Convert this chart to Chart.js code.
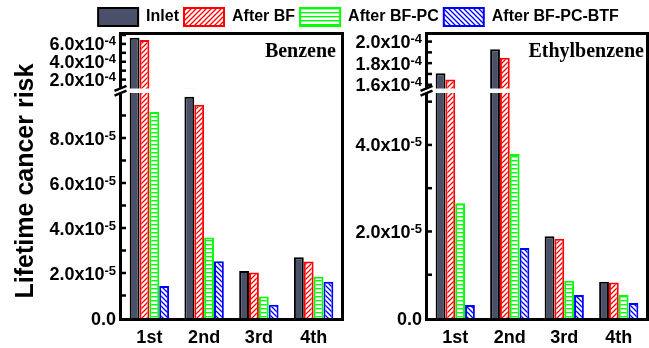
<!DOCTYPE html>
<html>
<head>
<meta charset="utf-8">
<script src="https://cdn.jsdelivr.net/npm/chart.js@4.4.1/dist/chart.umd.min.js"></script>
<style>
  html, body { margin: 0; padding: 0; background: #fff; }
  #wrap { position: relative; width: 649px; height: 348px; overflow: hidden; }
  #wrap canvas { position: absolute; left: 0; top: 0; }
</style>
</head>
<body>
<div id="wrap">
  <canvas id="legendChart" width="649" height="348"></canvas>
  <canvas id="bzUpper" width="649" height="348"></canvas>
  <canvas id="bzLower" width="649" height="348"></canvas>
  <canvas id="ebUpper" width="649" height="348"></canvas>
  <canvas id="ebLower" width="649" height="348"></canvas>
</div>
<script>
// ---- data ----
const categories = ["1st", "2nd", "3rd", "4th"]
const seriesNames = ["Inlet", "After BF", "After BF-PC", "After BF-PC-BTF"]

// Benzene
const benzeneInlet = [6.70e-4, 9.83e-5, 2.09e-5, 2.70e-5]
const benzeneBF = [6.44e-4, 9.48e-5, 2.02e-5, 2.51e-5]
const benzenePC = [9.16e-5, 3.58e-5, 0.96e-5, 1.83e-5]
const benzeneBTF = [1.42e-5, 2.52e-5, 0.59e-5, 1.61e-5]

// Ethylbenzene
const ethylInlet = [1.706e-4, 1.929e-4, 1.89e-5, 0.835e-5]
const ethylBF = [1.649e-4, 1.851e-4, 1.83e-5, 0.82e-5]
const ethylPC = [2.65e-5, 3.79e-5, 0.86e-5, 0.53e-5]
const ethylBTF = [0.30e-5, 1.62e-5, 0.53e-5, 0.345e-5]

// tick values (labelled and minor)
const benzeneUpperTicks = [2e-4, 4e-4, 6e-4]
const benzeneUpperMinor = [3e-4, 5e-4, 7e-4]
const benzeneLowerTicks = [0, 2e-5, 4e-5, 6e-5, 8e-5]
const benzeneLowerMinor = [1e-5, 3e-5, 5e-5, 7e-5, 9e-5]
const ethylUpperTicks = [1.6e-4, 1.8e-4, 2.0e-4]
const ethylUpperMinor = [1.7e-4, 1.9e-4]
const ethylLowerTicks = [0, 2e-5, 4e-5]
const ethylLowerMinor = [1e-5, 3e-5, 5e-5]

const W = 649, H = 348
const SANS = "Arial, 'Liberation Sans', sans-serif"
const SERIF = "'Times New Roman', 'Liberation Serif', serif"

// ---- hatch patterns ----
function hatch(kind, color, size) {
  const c = document.createElement("canvas")
  c.width = size
  c.height = size
  const g = c.getContext("2d")
  g.fillStyle = "#fff"
  g.fillRect(0, 0, size, size)
  g.strokeStyle = color
  g.fillStyle = color
  g.lineWidth = 1.3
  const s = size
  if (kind === "slash") {
    g.beginPath()
    g.moveTo(-1, 1); g.lineTo(1, -1)
    g.moveTo(0, s); g.lineTo(s, 0)
    g.moveTo(s - 1, s + 1); g.lineTo(s + 1, s - 1)
    g.stroke()
  } else if (kind === "back") {
    g.beginPath()
    g.moveTo(0, 0); g.lineTo(s, s)
    g.moveTo(-1, s - 1); g.lineTo(1, s + 1)
    g.moveTo(s - 1, -1); g.lineTo(s + 1, 1)
    g.stroke()
  } else {
    g.fillRect(0, 0, s, 1.4)
  }
  return g.createPattern(c, "repeat")
}

const tmpCtx = document.createElement("canvas").getContext("2d")
const fills = [
  "#4a5068",
  hatch("slash", "#ff0000", 5),
  hatch("horiz", "#00ff00", 4),
  hatch("back", "#0000ff", 5),
]
const borders = ["#000000", "#ff0000", "#00ff00", "#0000ff"]

function makeSets(vals) {
  return vals.map((v, i) => ({
    label: seriesNames[i],
    data: v,
    backgroundColor: fills[i],
    borderColor: borders[i],
    borderWidth: 2,
    categoryPercentage: 0.72,
    barPercentage: 1,
    clip: 0,
  }))
}

// "2.0x10" with a raised exponent
function drawSci(ctx, v, xr, py) {
  let main = "0.0", sup = ""
  if (v !== 0) {
    const e = Math.floor(Math.log10(v) + 1e-9)
    main = (v / Math.pow(10, e)).toFixed(1) + "x10"
    sup = String(e)
  }
  ctx.textAlign = "left"
  ctx.textBaseline = "alphabetic"
  ctx.font = "bold 13px " + SANS
  const ws = sup ? ctx.measureText(sup).width : 0
  ctx.font = "bold 18px " + SANS
  const wm = ctx.measureText(main).width
  ctx.fillText(main, xr - ws - wm, py + 6.5)
  if (sup) {
    ctx.font = "bold 13px " + SANS
    ctx.fillText(sup, xr - ws, py + 1.5)
  }
}

function framePlugin(o) {
  return {
    id: "frame",
    afterDraw(chart) {
      const { ctx, chartArea: a } = chart
      const y = chart.scales.y
      const x = chart.scales.x
      ctx.save()
      ctx.fillStyle = "#000"
      if (o.part === "upper") {
        ctx.fillRect(a.left - 3, a.top - 3, a.right - a.left + 6, 3)
        ctx.fillRect(a.left - 3, a.top - 3, 3, a.bottom - a.top + 3)
        ctx.fillRect(a.right, a.top - 3, 3, a.bottom - a.top + 3)
      } else {
        ctx.fillRect(a.left - 3, a.top, 3, a.bottom - a.top + 3)
        ctx.fillRect(a.left - 3, a.bottom, a.right - a.left + 6, 3)
        ctx.fillRect(a.right, a.top - 6, 3, a.bottom - a.top + 9)
      }
      // inward ticks
      o.ticks.concat(o.minor).forEach((v) => {
        if (v === 0) return
        const py = y.getPixelForValue(v)
        ctx.fillRect(a.left, py - 1.25, 4, 2.5)
      })
      // tick labels
      o.ticks.forEach((v) => drawSci(ctx, v, a.left - 6, y.getPixelForValue(v)))

      if (o.part === "upper") {
        ctx.font = "bold 20px " + SERIF
        ctx.textAlign = "right"
        ctx.textBaseline = "alphabetic"
        ctx.fillText(o.title, a.right - o.titleGap, 56.5)
      } else {
        // category labels
        ctx.font = "bold 18px " + SANS
        ctx.textAlign = "center"
        ctx.textBaseline = "alphabetic"
        categories.forEach((c, i) => ctx.fillText(c, x.getPixelForValue(i), 343))
        // axis break marks
        const cx = a.left - 1.5
        const cy = a.top - 2.25
        ctx.strokeStyle = "#000"
        ctx.lineWidth = 2.5
        ctx.beginPath()
        ;[-2.3, 2.3].forEach((d) => {
          ctx.moveTo(cx - 6, cy + d + 2.5)
          ctx.lineTo(cx + 6, cy + d - 2.5)
        })
        ctx.stroke()
        if (o.yTitle) {
          ctx.translate(33, 181)
          ctx.rotate(-Math.PI / 2)
          ctx.font = "bold 25px " + SANS
          ctx.textAlign = "center"
          ctx.fillText(o.yTitle, 0, 0)
        }
      }
      ctx.restore()
    },
  }
}

function panelPart(id, o) {
  return new Chart(document.getElementById(id), {
    type: "bar",
    data: { labels: categories, datasets: makeSets(o.values) },
    options: {
      responsive: false,
      animation: false,
      events: [],
      layout: {
        padding: { left: o.area[0], top: o.area[1], right: W - o.area[2], bottom: H - o.area[3] },
      },
      scales: {
        x: { display: false },
        y: { display: false, min: o.min, max: o.max },
      },
      plugins: { legend: { display: false }, tooltip: { enabled: false } },
    },
    plugins: [framePlugin(o)],
  })
}

const benzeneValues = [benzeneInlet, benzeneBF, benzenePC, benzeneBTF]
const ethylValues = [ethylInlet, ethylBF, ethylPC, ethylBTF]

panelPart("bzUpper", {
  part: "upper", values: benzeneValues, area: [122, 35, 341, 88.5],
  min: 1e-4, max: 7e-4, ticks: benzeneUpperTicks, minor: benzeneUpperMinor,
  title: "Benzene", titleGap: 5,
})
panelPart("bzLower", {
  part: "lower", values: benzeneValues, area: [122, 93, 341, 318],
  min: 0, max: 1e-4, ticks: benzeneLowerTicks, minor: benzeneLowerMinor,
  yTitle: "Lifetime cancer risk",
})
panelPart("ebUpper", {
  part: "upper", values: ethylValues, area: [428, 35, 646, 88.5],
  min: 1.565e-4, max: 2.061e-4, ticks: ethylUpperTicks, minor: ethylUpperMinor,
  title: "Ethylbenzene", titleGap: 2,
})
panelPart("ebLower", {
  part: "lower", values: ethylValues, area: [428, 93, 646, 318],
  min: 0, max: 5.2e-5, ticks: ethylLowerTicks, minor: ethylLowerMinor,
})

// legend row across the top
new Chart(document.getElementById("legendChart"), {
  type: "bar",
  data: { labels: [], datasets: makeSets([[], [], [], []]) },
  options: {
    responsive: false,
    animation: false,
    events: [],
    layout: { padding: { left: 68, top: 3, right: 0, bottom: 0 } },
    scales: { x: { display: false }, y: { display: false } },
    plugins: {
      tooltip: { enabled: false },
      legend: {
        display: true,
        position: "top",
        labels: {
          boxWidth: 40,
          boxHeight: 18,
          padding: 5,
          color: "#000",
          font: { size: 16, weight: "bold", family: SANS },
        },
      },
    },
  },
})
</script>
</body>
</html>
